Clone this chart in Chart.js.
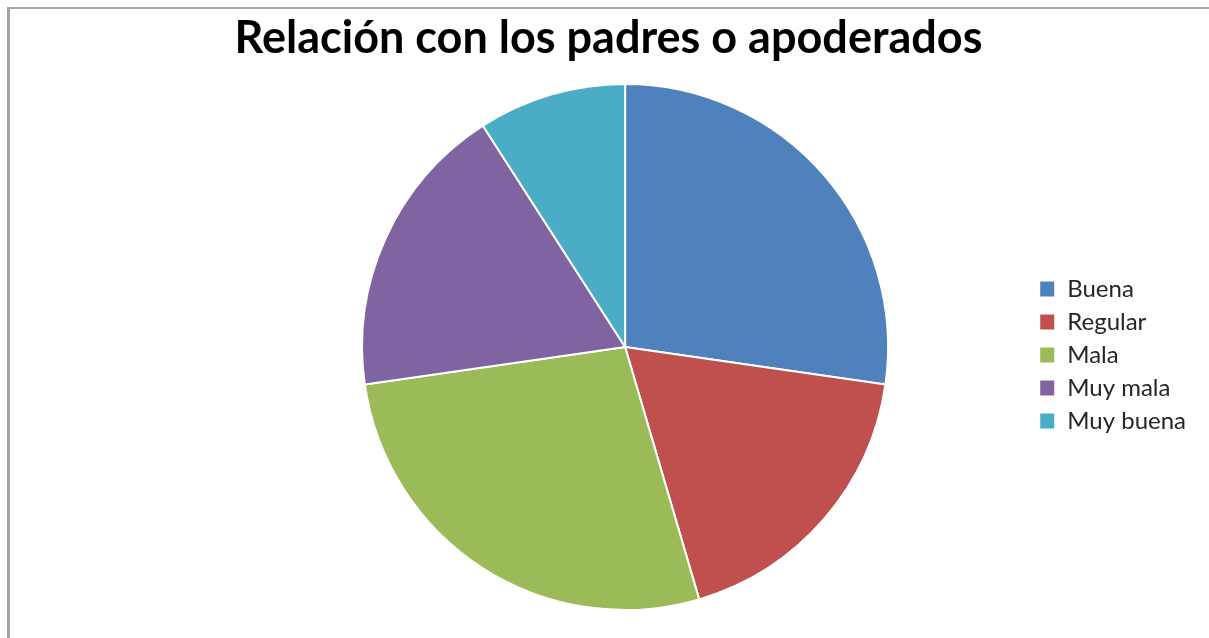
<!DOCTYPE html>
<html>
<head>
<meta charset="utf-8">
<script src="https://cdn.jsdelivr.net/npm/chart.js@4.4.1/dist/chart.umd.min.js"></script>
<style>
  html, body { margin: 0; padding: 0; background: #fff; }
  #frame {
    position: absolute; left: 7px; top: 7px; right: 0; bottom: 0;
    border-top: 2px solid #a9a9a9; border-left: 3px solid #a4a4a4;
  }
  #wrap { position: absolute; left: 0; top: 0; width: 1209px; height: 638px; }
</style>
</head>
<body>
<div id="frame"></div>
<div id="wrap"><canvas id="pieChart"></canvas></div>
<script>
// datos del gráfico
const categorias = ['Buena', 'Regular', 'Mala', 'Muy mala', 'Muy buena'];
const valores = [3, 2, 3, 2, 1];
const colores = ['#4F81BD', '#C0504D', '#9BBB59', '#8064A2', '#4BACC6'];

const ctx = document.getElementById('pieChart').getContext('2d');

new Chart(ctx, {
    type: 'pie',
    data: {
        labels: categorias,
        datasets: [{
            data: valores,
            backgroundColor: colores,
            borderColor: '#ffffff',
            borderWidth: 2
        }]
    },
    options: {
        responsive: true,
        maintainAspectRatio: false,
        animation: false,
        layout: {
            padding: { left: 21, right: 13, top: 0, bottom: 27 }
        },
        plugins: {
            title: {
                display: true,
                text: 'Relación con los padres o apoderados',
                color: '#000',
                font: { family: 'Lato', size: 45, weight: 'bold' },
                padding: { top: 11, bottom: 18 }
            },
            // espacio vacío a la izquierda para centrar el pastel como en el original
            subtitle: {
                display: true,
                position: 'left',
                fullSize: false,
                text: '',
                font: { size: 10 },
                padding: { top: 93.5, bottom: 93.5 }
            },
            legend: {
                position: 'right',
                fullSize: false,
                title: { display: true, text: '', font: { size: 5 }, padding: 5 },
                labels: {
                    boxWidth: 16,
                    boxHeight: 17,
                    padding: 9,
                    color: '#262626',
                    font: { family: 'Lato', size: 24 }
                }
            },
            tooltip: { enabled: false }
        }
    }
});
</script>
</body>
</html>
